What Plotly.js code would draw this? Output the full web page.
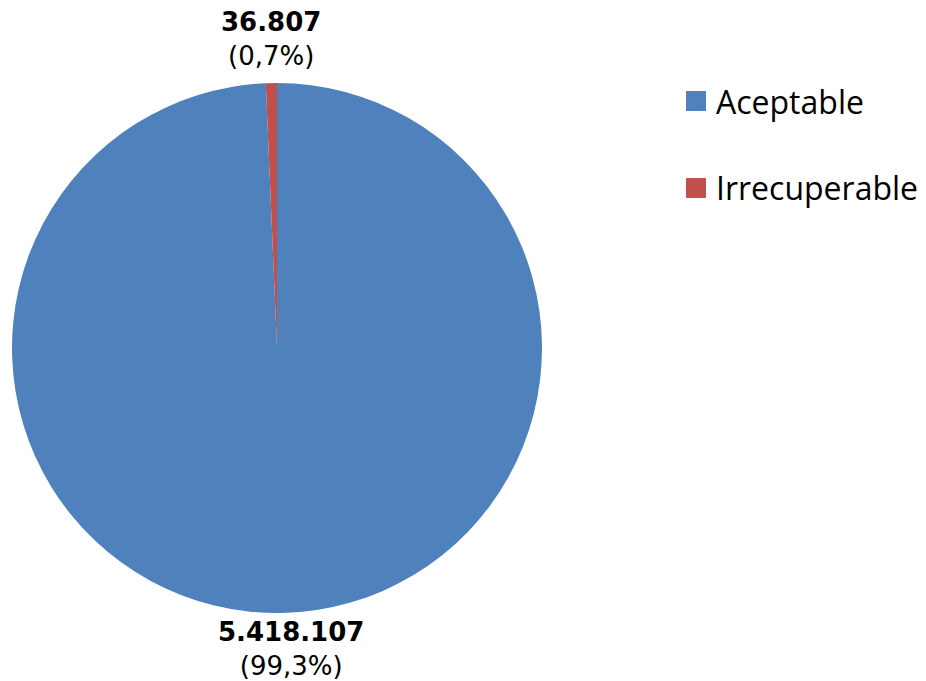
<!DOCTYPE html>
<html><head><meta charset="utf-8">
<script src="https://cdn.plot.ly/plotly-3.0.1.min.js"></script>
<style>html,body{margin:0;padding:0;background:#fff}#chart{width:926px;height:681px}</style>
</head><body><div id="chart"></div>
<script>
const categories = ["Aceptable", "Irrecuperable"];
const values = [5418107, 36807];
const colors = ["#4F81BD", "#C0504D"];

const total = values.reduce((a, b) => a + b, 0);
const fmtNum = v => String(v).replace(/\B(?=(\d{3})+(?!\d))/g, ".");
const fmtPct = v => (v / total * 100).toFixed(1).replace(".", ",") + "%";
const labelTexts = values.map(v => "<b>" + fmtNum(v) + "</b><br>(" + fmtPct(v) + ")");

const W = 926, H = 681;
const cx = 277, cy = 348, R = 265;
const trace = {
  type: "pie",
  labels: categories,
  values: values,
  textinfo: "none",
  marker: {colors: colors, line: {width: 0}},
  sort: false,
  direction: "clockwise",
  rotation: 0,
  showlegend: false,
  hoverinfo: "label+value+percent",
  domain: {x: [(cx - R) / W, (cx + R) / W], y: [(H - cy - R) / H, (H - cy + R) / H]}
};

const shapes = [], annotations = [];
// data labels placed outside each slice at its mid-angle
let cum = 0;
values.forEach((v, i) => {
  const mid = (cum + v / 2) / total * 2 * Math.PI; // clockwise from top
  cum += v;
  const sx = Math.sin(mid), sy = Math.cos(mid);
  const top = sy > 0;
  const gap = top ? 11 : 3;
  const px = cx + (R + gap) * sx, py = cy - (R + gap) * sy;
  annotations.push({xref: "paper", yref: "paper", x: px / W, y: 1 - py / H,
    xanchor: "center", yanchor: top ? "bottom" : "top", showarrow: false,
    xshift: top ? 0 : 8, borderpad: 0,
    text: labelTexts[i], align: "center",
    font: {family: "DejaVu Sans", size: 26, color: "#000"}});
});

const legendX = 686, legendY0 = 101, legendStep = 87, sq = 20;
categories.forEach((c, i) => {
  const ly = legendY0 + i * legendStep;
  shapes.push({type: "rect", xref: "paper", yref: "paper",
    x0: legendX / W, x1: (legendX + sq) / W,
    y0: 1 - (ly + sq / 2) / H, y1: 1 - (ly - sq / 2) / H,
    fillcolor: colors[i], line: {width: 0}});
  annotations.push({xref: "paper", yref: "paper", x: (legendX + sq + 8) / W, y: 1 - ly / H,
    xanchor: "left", yanchor: "middle", showarrow: false, text: c,
    font: {family: "Open Sans", size: 32, color: "#000"}});
});

Plotly.newPlot("chart", [trace], {
  width: W, height: H,
  margin: {l: 0, r: 0, t: 0, b: 0},
  paper_bgcolor: "#fff",
  shapes: shapes, annotations: annotations
}, {displayModeBar: false, staticPlot: true});
</script></body></html>
